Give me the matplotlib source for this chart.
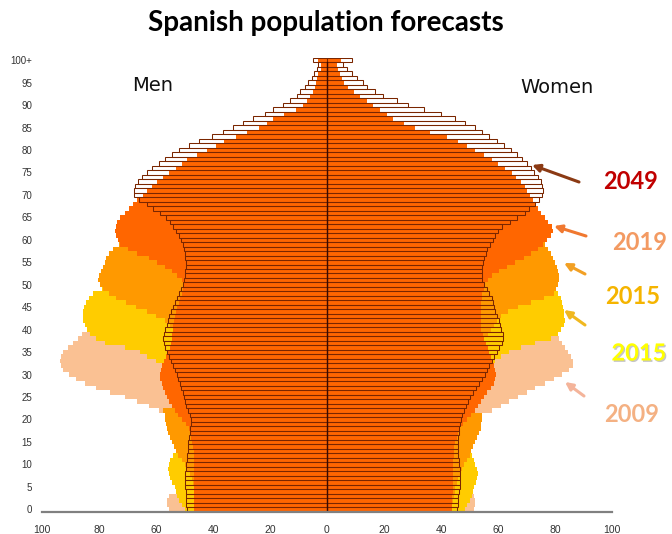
import numpy as np
import matplotlib
matplotlib.use("Agg")
import matplotlib.pyplot as plt
import matplotlib.patheffects as pe
from matplotlib.patches import FancyArrowPatch

# ---------------- data (ages 0..100+, single years) ----------------
ages = list(range(0, 101))
age_ticks = list(range(0, 101, 5))
age_tick_labels = [str(a) for a in range(0, 100, 5)] + ["100+"]
x_ticks = [-100, -80, -60, -40, -20, 0, 20, 40, 60, 80, 100]
x_tick_labels = ["100", "80", "60", "40", "20", "0", "20", "40", "60", "80", "100"]

men_2009 = [55.5, 56.0, 56.0, 55.5, 52.5, 52.0, 51.5, 51.0, 51.0, 51.0,
            51.0, 51.0, 51.0, 50.5, 50.0, 50.0, 50.0, 50.5, 51.0, 52.0,
            53.5, 56.0, 59.0, 62.5, 66.5, 71.0, 76.0, 81.0, 85.0, 88.0,
            90.5, 92.5, 93.5, 93.7, 93.3, 92.5, 91.0, 89.0, 87.5, 86.0,
            84.0, 83.5, 83.0, 82.0, 81.0, 80.0, 79.0, 77.0, 76.0, 75.0,
            73.0, 72.0, 71.0, 70.0, 68.0, 66.0, 65.0, 64.0, 62.0, 60.0,
            58.0, 56.0, 54.0, 52.0, 51.0, 49.0, 48.0, 47.0, 45.0, 43.0,
            41.0, 39.5, 38.0, 37.0, 36.0, 34.0, 32.0, 30.0, 28.0, 26.0,
            24.0, 22.0, 20.0, 18.0, 16.0, 14.0, 12.0, 10.0, 8.5, 7.0,
            5.5, 4.5, 3.5, 2.8, 2.2, 1.7, 1.3, 1.0, 0.7, 0.5, 1.0]
men_2019 = [50.0, 51.0, 52.0, 52.6, 53.0, 53.5, 54.4, 55.0, 55.5, 55.7,
            55.5, 55.0, 54.0, 52.5, 52.0, 52.0, 52.0, 52.0, 52.0, 52.0,
            52.0, 52.0, 52.0, 52.0, 52.0, 52.0, 52.5, 53.0, 53.5, 54.0,
            55.0, 56.5, 58.0, 60.0, 63.0, 65.5, 71.0, 78.0, 81.0, 83.0,
            84.3, 85.0, 85.5, 85.7, 85.6, 85.3, 84.5, 83.5, 82.0, 79.0,
            77.0, 75.0, 74.0, 73.0, 72.0, 71.0, 70.0, 69.0, 67.0, 65.0,
            63.0, 61.0, 59.0, 57.0, 55.0, 53.0, 51.0, 49.5, 48.0, 47.0,
            46.0, 44.0, 42.0, 40.0, 39.0, 38.0, 36.0, 34.0, 32.0, 30.0,
            28.0, 26.0, 23.5, 21.0, 18.5, 16.0, 14.0, 12.0, 10.0, 8.5,
            7.0, 6.0, 5.0, 4.0, 3.0, 2.5, 2.0, 1.5, 1.0, 1.0, 1.5]
men_2029 = [44.5, 45.0, 45.0, 45.5, 46.0, 46.5, 47.0, 47.5, 48.0, 49.0,
            50.0, 51.0, 52.3, 53.0, 53.6, 54.3, 55.0, 55.8, 56.2, 56.5,
            56.8, 57.0, 57.5, 54.5, 55.0, 55.5, 56.0, 56.0, 56.0, 56.0,
            56.0, 55.8, 55.5, 55.0, 54.5, 54.0, 53.5, 53.0, 53.0, 53.0,
            53.5, 55.0, 57.0, 60.0, 63.0, 67.0, 70.5, 74.0, 76.5, 78.5,
            79.5, 80.3, 80.0, 79.2, 78.5, 78.0, 77.5, 76.5, 75.0, 73.0,
            71.5, 69.0, 67.5, 66.0, 64.0, 62.0, 60.0, 58.0, 56.0, 54.0,
            52.0, 50.0, 48.0, 46.0, 44.0, 42.0, 40.0, 38.0, 36.0, 34.0,
            32.0, 29.0, 26.0, 23.0, 20.0, 17.0, 15.0, 13.0, 11.0, 9.0,
            7.5, 6.5, 5.5, 4.5, 3.5, 3.0, 2.5, 2.0, 1.5, 1.5, 2.0]
men_2039 = [46.5, 46.5, 46.5, 46.5, 46.6, 46.6, 46.6, 46.6, 46.6, 46.6,
            46.6, 46.6, 46.7, 46.8, 47.0, 47.3, 47.6, 48.0, 48.5, 49.5,
            50.8, 52.3, 53.5, 54.5, 55.3, 56.0, 56.8, 57.5, 58.0, 58.5,
            58.6, 58.3, 57.8, 57.2, 56.5, 55.8, 55.2, 54.8, 54.5, 54.4,
            54.2, 54.0, 53.6, 53.3, 53.0, 52.5, 52.0, 51.5, 51.0, 50.5,
            50.5, 51.0, 52.5, 54.5, 57.0, 59.5, 62.5, 66.5, 70.0, 72.5,
            73.5, 74.0, 74.4, 74.2, 73.7, 72.5, 71.0, 69.5, 68.0, 66.5,
            64.5, 63.0, 61.5, 59.5, 57.5, 55.5, 53.0, 51.0, 49.0, 45.5,
            42.0, 39.0, 36.0, 32.0, 28.0, 24.0, 21.0, 19.0, 15.0, 11.0,
            8.4, 7.0, 6.0, 5.0, 4.2, 4.0, 3.5, 3.0, 2.0, 2.0, 3.0]
men_2049 = [49.2, 49.3, 49.4, 49.5, 49.6, 49.7, 49.8, 49.8, 49.8, 49.6,
            49.4, 49.2, 49.0, 48.8, 48.7, 48.6, 48.4, 48.2, 48.0, 47.8,
            47.8, 48.2, 48.8, 49.4, 49.8, 50.2, 50.6, 51.2, 51.6, 52.2,
            52.7, 53.3, 54.0, 54.8, 55.5, 56.2, 57.0, 57.3, 57.5, 57.2,
            56.8, 56.3, 55.8, 55.3, 54.8, 54.2, 53.5, 52.7, 52.0, 51.3,
            50.7, 50.3, 50.0, 49.7, 49.5, 49.5, 49.7, 50.0, 50.3, 50.7,
            51.2, 52.0, 53.0, 54.0, 55.0, 56.5, 58.5, 61.0, 63.0, 66.0,
            67.8, 67.8, 67.3, 66.3, 65.0, 63.3, 61.3, 59.0, 57.0, 54.5,
            52.0, 48.5, 45.0, 40.5, 36.5, 33.0, 29.5, 26.0, 21.8, 19.0,
            15.4, 13.0, 10.6, 9.5, 7.7, 6.6, 5.4, 4.6, 3.6, 3.2, 5.0]

women_2009 = [51.5, 52.0, 52.0, 51.5, 50.5, 50.0, 49.5, 49.0, 48.5, 48.5,
              48.5, 48.5, 48.5, 48.5, 48.5, 48.5, 48.5, 49.0, 49.5, 50.5,
              52.0, 54.5, 57.8, 61.0, 64.0, 67.0, 70.0, 73.0, 76.5, 79.5,
              82.5, 85.0, 86.2, 86.2, 85.5, 84.5, 83.5, 82.5, 81.5, 81.0,
              80.5, 80.0, 79.5, 79.0, 78.0, 77.0, 76.0, 75.0, 74.0, 73.0,
              72.0, 71.0, 70.0, 69.0, 67.5, 66.0, 65.0, 63.5, 62.0, 60.5,
              59.0, 57.0, 55.0, 53.5, 52.0, 50.5, 49.0, 47.5, 46.0, 44.5,
              43.0, 42.0, 41.0, 39.5, 38.0, 36.0, 34.0, 32.0, 30.0, 28.0,
              26.0, 24.0, 22.0, 20.0, 18.0, 16.0, 14.0, 12.0, 10.5, 9.0,
              7.5, 6.0, 5.0, 4.0, 3.2, 2.5, 2.0, 1.6, 1.2, 0.8, 1.2]
women_2019 = [48.5, 49.0, 50.0, 50.8, 51.2, 51.6, 52.2, 52.7, 52.9, 52.5,
              52.0, 51.5, 50.8, 50.0, 49.7, 49.5, 49.5, 49.6, 49.8, 50.0,
              50.0, 50.0, 50.5, 51.0, 51.5, 52.0, 52.5, 53.0, 53.5, 54.0,
              54.5, 55.5, 57.0, 59.0, 61.0, 64.0, 68.0, 73.0, 78.5, 81.0,
              82.0, 83.0, 83.5, 83.3, 83.1, 82.9, 82.5, 82.0, 81.0, 80.0,
              79.0, 78.0, 77.0, 76.0, 75.0, 74.0, 73.0, 72.0, 70.5, 69.0,
              67.0, 65.0, 63.0, 61.0, 59.0, 57.5, 56.0, 54.5, 53.0, 51.5,
              50.0, 48.5, 47.0, 45.5, 44.0, 42.0, 40.0, 38.0, 36.0, 34.0,
              32.0, 30.0, 28.0, 25.0, 22.0, 19.0, 16.5, 14.0, 12.0, 10.5,
              9.0, 7.5, 6.0, 5.0, 4.0, 3.0, 2.5, 2.0, 1.5, 1.0, 1.5]
women_2029 = [43.8, 44.0, 44.3, 44.5, 44.8, 45.0, 45.5, 46.0, 46.5, 47.2,
              48.0, 49.0, 50.0, 50.6, 51.2, 51.8, 52.5, 53.3, 54.0, 54.2,
              54.3, 54.4, 51.5, 52.5, 53.5, 54.5, 55.0, 55.5, 55.8, 56.0,
              56.0, 56.0, 56.0, 55.7, 55.5, 55.2, 55.0, 55.0, 55.0, 56.5,
              57.5, 58.5, 59.5, 61.0, 63.5, 67.0, 71.5, 76.0, 79.5, 80.3,
              81.0, 81.3, 81.4, 81.0, 80.6, 80.0, 79.3, 78.5, 77.5, 76.5,
              75.5, 74.5, 73.5, 72.0, 70.0, 68.0, 66.0, 64.0, 62.0, 60.0,
              58.0, 56.0, 54.0, 52.0, 50.0, 48.0, 46.0, 44.0, 42.0, 40.0,
              38.0, 35.0, 32.0, 29.0, 26.0, 23.0, 20.0, 17.0, 14.5, 12.5,
              10.5, 9.0, 7.5, 6.0, 5.0, 4.0, 3.0, 2.5, 2.0, 1.5, 2.0]
women_2039 = [43.8, 43.9, 44.0, 44.0, 44.1, 44.2, 44.2, 44.3, 44.3, 44.3,
              44.3, 44.3, 44.4, 44.5, 44.7, 45.0, 45.5, 46.0, 46.8, 47.8,
              49.0, 50.5, 51.8, 53.0, 54.0, 55.0, 56.3, 57.6, 58.5, 59.1,
              59.2, 58.8, 58.5, 58.0, 57.5, 57.0, 56.4, 55.8, 55.2, 54.6,
              54.2, 54.0, 54.0, 54.0, 54.0, 54.1, 54.2, 54.3, 54.5, 55.0,
              55.5, 56.5, 58.0, 60.5, 63.0, 66.0, 69.0, 71.5, 74.0, 75.8,
              77.3, 78.5, 79.3, 78.8, 77.5, 76.5, 75.0, 74.0, 73.0, 72.2,
              71.3, 70.3, 69.3, 68.0, 66.3, 64.8, 62.5, 60.0, 58.0, 55.0,
              52.0, 49.0, 46.0, 42.0, 36.0, 31.0, 27.0, 23.0, 21.0, 18.5,
              16.3, 14.0, 11.6, 9.5, 7.4, 6.0, 5.1, 4.5, 3.9, 3.5, 5.0]
women_2049 = [45.7, 45.8, 46.0, 46.1, 46.3, 46.5, 46.6, 46.7, 46.6, 46.5,
              46.3, 46.2, 46.0, 45.8, 45.8, 45.9, 46.0, 46.2, 46.4, 46.6,
              47.0, 47.4, 48.0, 48.8, 49.6, 50.3, 51.2, 52.4, 53.3, 54.3,
              55.3, 56.0, 57.0, 57.8, 58.6, 59.5, 60.5, 61.3, 61.8, 61.6,
              61.2, 60.8, 60.2, 59.7, 59.1, 58.7, 58.3, 57.8, 57.0, 56.0,
              55.0, 54.5, 54.3, 54.3, 54.4, 54.8, 55.2, 55.8, 56.3, 57.2,
              58.3, 59.0, 60.0, 61.5, 64.2, 66.5, 69.3, 71.0, 73.0, 74.5,
              75.6, 75.8, 75.5, 75.0, 74.0, 72.7, 71.5, 70.0, 68.3, 66.5,
              64.5, 62.0, 59.5, 57.0, 54.5, 52.0, 48.5, 45.0, 40.0, 34.0,
              28.4, 24.4, 19.8, 16.8, 13.9, 12.7, 10.4, 8.7, 6.9, 5.7, 8.7]

layers = [
    ("2009", men_2009, women_2009, "#FAC193"),
    ("2019", men_2019, women_2019, "#FFCC00"),
    ("2029", men_2029, women_2029, "#FF9900"),
    ("2039", men_2039, women_2039, "#FF6600"),
]

# ---------------- figure ----------------
W, H = 672, 534
fig = plt.figure(figsize=(W / 100, H / 100), dpi=100)
fig.patch.set_facecolor("white")
ax = fig.add_axes([42 / W, (H - 511.5) / H, 570 / W, 454 / H])

edges = np.arange(-0.5, 101.0, 1.0)
for name, m, w, col in layers:
    ax.stairs(-np.array(m), edges, orientation="horizontal", baseline=0,
              fill=True, color=col, linewidth=0)
    ax.stairs(np.array(w), edges, orientation="horizontal", baseline=0,
              fill=True, color=col, linewidth=0)

bar_edge = "#7A2600"
ax.barh(ages, -np.array(men_2049), height=1.0, facecolor="none",
        edgecolor=bar_edge, linewidth=0.75)
ax.barh(ages, np.array(women_2049), height=1.0, facecolor="none",
        edgecolor=bar_edge, linewidth=0.75)
ax.axvline(0, ymin=0, ymax=1.0 / 1.011, color="#3a0a00", linewidth=1.0)

ax.set_xlim(-100, 100)
ax.set_ylim(-0.5, 100.6)
for s in ["top", "right", "left"]:
    ax.spines[s].set_visible(False)
ax.spines["bottom"].set_color("#808080")
ax.spines["bottom"].set_linewidth(1.6)

tick_font = dict(family="Liberation Sans", color="#333333")
ax.set_xticks(x_ticks)
ax.set_xticklabels(x_tick_labels, fontsize=7.5, **tick_font)
ax.set_yticks(age_ticks)
ax.set_yticklabels(age_tick_labels, fontsize=7, **tick_font)
ax.tick_params(axis="x", length=0, pad=10)
ax.tick_params(axis="y", length=0, pad=7)


def fx(x):
    return x / W


def fy(y):
    return 1 - y / H


fig.text(fx(326), fy(23), "Spanish population forecasts", fontsize=20,
         fontweight="bold", family="Lato", ha="center", va="center", color="black")
fig.text(fx(153), fy(85), "Men", fontsize=14, family="DejaVu Sans",
         ha="center", va="center", color="#111111")
fig.text(fx(557), fy(87), "Women", fontsize=14, family="DejaVu Sans",
         ha="center", va="center", color="#111111")

labels = [
    ("2049", 631, 182, "#C00000", None),
    ("2019", 640, 243, "#F39A62", None),
    ("2015", 633, 297, "#F5B400", None),
    ("2015", 639, 353, "#FFFF00", "#A0A0A0"),
    ("2009", 632, 414, "#F4B183", None),
]
for txt, x, y, col, shadow in labels:
    effects = None
    if shadow:
        effects = [pe.SimplePatchShadow(offset=(1, -1), shadow_rgbFace=shadow, alpha=0.6),
                   pe.Normal()]
    fig.text(fx(x), fy(y), txt, fontsize=17, fontweight="bold", family="Lato",
             ha="center", va="center", color=col, path_effects=effects)

arrows = [
    ((579, 182), (532, 165), "#8B3A14"),
    ((586, 236), (554, 226), "#F07830"),
    ((585, 274), (564, 263), "#F2A024"),
    ((585, 325), (564, 310), "#F0B820"),
    ((584, 396), (565, 382), "#F4B49A"),
]
for (x0, y0), (x1, y1), col in arrows:
    fig.add_artist(FancyArrowPatch(
        (fx(x0), fy(y0)), (fx(x1), fy(y1)), transform=fig.transFigure,
        arrowstyle="-|>", mutation_scale=11, linewidth=2.2, color=col,
        shrinkA=0, shrinkB=0))

fig.savefig("out.png", dpi=100, facecolor="white")
